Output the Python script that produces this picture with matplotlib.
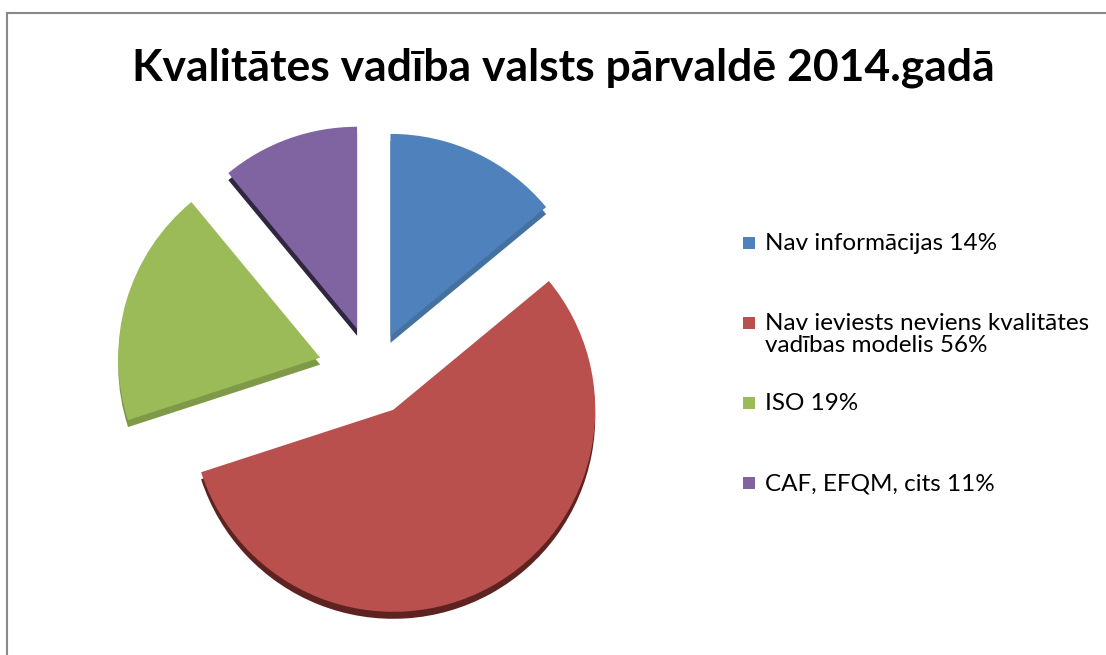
import matplotlib
matplotlib.use("Agg")
import matplotlib.pyplot as plt
from matplotlib.patches import Rectangle

title = "Kvalitātes vadība valsts pārvaldē 2014.gadā"
categories = ["Nav informācijas", "Nav ieviests neviens kvalitātes\nvadības modelis", "ISO", "CAF, EFQM, cits"]
shares = [14, 56, 19, 11]
colors = ["#4F81BD", "#B9504D", "#9BBB59", "#8064A2"]
side_colors = ["#44719F", "#5E2321", "#7E9A48", "#30263F"]

W, H = 1106, 655
fig = plt.figure(figsize=(W / 100, H / 100), dpi=100)
ax = fig.add_axes([0, 0, 1, 1])

cx, cy, r = 373, H - 373, 202
explode = [41, 42, 55, 47]  # pixel offsets (perspective makes them uneven)

# 3D side (darker copy shifted down)
ax.pie(shares, colors=side_colors, startangle=90, counterclock=False,
       radius=r, center=(cx, cy - 7), explode=explode, frame=True,
       wedgeprops=dict(linewidth=0))
wedges, _ = ax.pie(shares, colors=colors, startangle=90, counterclock=False,
                   radius=r, center=(cx, cy), explode=explode, frame=True,
                   wedgeprops=dict(linewidth=0))
ax.set_xlim(0, W)
ax.set_ylim(0, H)
ax.set_aspect("equal")
ax.axis("off")

fig.text(563 / W, 1 - 68 / H, title, ha="center", va="center",
         fontsize=32, fontweight="bold", family="Lato")

# legend, drawn as entries spaced evenly like the original
labels = [f"{c} {s}%" for c, s in zip(categories, shares)]
entry_top = 233
entry_pitch = 80
for i, (lab, col) in enumerate(zip(labels, colors)):
    ytop = entry_top + i * entry_pitch
    ax.add_patch(Rectangle((743, H - (ytop + 16)), 12, 12, color=col, lw=0))
    fig.text(765 / W, 1 - ytop / H, lab, ha="left", va="top",
             fontsize=17.5, family="Lato", linespacing=1.05)

fig.add_artist(Rectangle((7 / W, -0.1), 1.2, (H - 13) / H + 0.1, fill=False,
                         transform=fig.transFigure, ec="#888888", lw=1.5))

fig.savefig("out.png", dpi=100)
